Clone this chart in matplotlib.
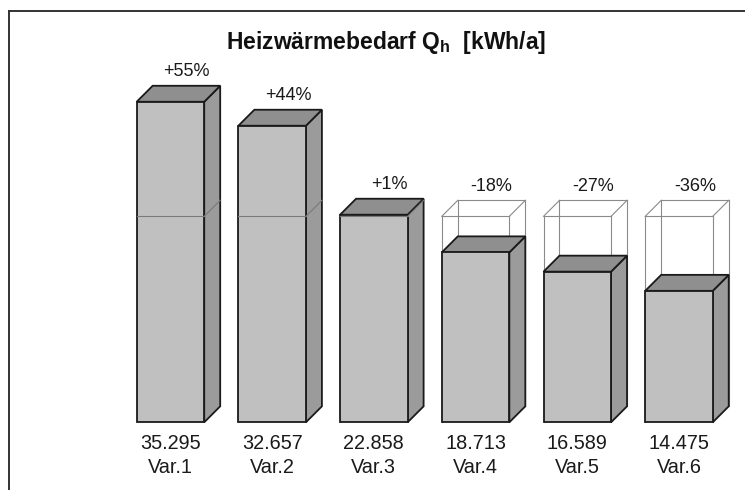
import matplotlib
matplotlib.use("Agg")
import matplotlib.pyplot as plt
from matplotlib.patches import Polygon, Rectangle
from matplotlib.lines import Line2D

plt.rcParams['font.family'] = ['Liberation Sans', 'DejaVu Sans']
plt.rcParams['mathtext.fontset'] = 'custom'
plt.rcParams['mathtext.bf'] = 'Liberation Sans:bold'
plt.rcParams['mathtext.rm'] = 'Liberation Sans'

# ---- data ----
categories = ["Var.1", "Var.2", "Var.3", "Var.4", "Var.5", "Var.6"]
values = [35.295, 32.657, 22.858, 18.713, 16.589, 14.475]
value_labels = ["35.295", "32.657", "22.858", "18.713", "16.589", "14.475"]
pct_labels = ["+55%", "+44%", "+1%", "-18%", "-27%", "-36%"]
reference = 22.68

# ---- style / geometry ----
W = 0.664       # front face width (category units)
DX = 0.157      # depth offset in x (category units)
DY = 1.76       # depth offset in y (value units)
FRONT = "#c0c0c0"
TOP = "#8f8f8f"
SIDE = "#9b9b9b"
EDGE = "#1a1a1a"
WIRE = "#8a8a8a"

fig = plt.figure(figsize=(7.45, 4.90), dpi=100)
ax = fig.add_axes([0, 0, 1, 1])
ax.set_xlim(-1.676, 5.649)
ax.set_ylim(-7.454, 46.50)
ax.axis("off")

for i, v in enumerate(values):
    x0, x1 = i - W / 2, i + W / 2
    # wireframe reference box behind lower bars
    if v < reference:
        r = reference
        segs = [
            [(x0, 0), (x0, r)], [(x1, 0), (x1, r)], [(x0, r), (x1, r)],
            [(x0 + DX, DY), (x0 + DX, r + DY)], [(x1 + DX, DY), (x1 + DX, r + DY)],
            [(x0 + DX, r + DY), (x1 + DX, r + DY)],
            [(x0, r), (x0 + DX, r + DY)], [(x1, r), (x1 + DX, r + DY)],
        ]
        for s in segs:
            ax.add_line(Line2D([s[0][0], s[1][0]], [s[0][1], s[1][1]],
                               color=WIRE, lw=0.8, zorder=1))
    # bar faces
    ax.add_patch(Polygon([(x1, 0), (x1 + DX, DY), (x1 + DX, v + DY), (x1, v)],
                         closed=True, facecolor=SIDE, edgecolor=EDGE, lw=1.3, zorder=2))
    ax.add_patch(Polygon([(x0, v), (x1, v), (x1 + DX, v + DY), (x0 + DX, v + DY)],
                         closed=True, facecolor=TOP, edgecolor=EDGE, lw=1.3, zorder=2,
                         joinstyle="miter"))
    ax.add_patch(Rectangle((x0, 0), W, v, facecolor=FRONT, edgecolor=EDGE, lw=1.3, zorder=3))
    # reference cut line on taller bars
    if v > reference:
        ax.add_line(Line2D([x0, x1], [reference, reference], color="#7a7a7a", lw=0.8, zorder=4))
        ax.add_line(Line2D([x1, x1 + DX], [reference, reference + DY], color="#7a7a7a",
                           lw=0.8, zorder=4))
    top = max(v, reference)
    ax.text(i + DX, top + DY + 1.55, pct_labels[i], ha="center", va="center",
            fontsize=13, color="#1a1a1a")
    ax.text(i, -2.3, value_labels[i], ha="center", va="center", fontsize=14.3, color="#1a1a1a")
    ax.text(i, -5.0, categories[i], ha="center", va="center", fontsize=14.3, color="#1a1a1a")

# title
fig.text(386 / 745, 1 - 42 / 490, "Heizwärmebedarf Q$_\\mathbf{h}$  [kWh/a]",
         ha="center", va="center", fontsize=16.5, fontweight="bold", color="#111111")

# frame lines (top and left)
fig.add_artist(Line2D([9 / 745, 1], [1 - 11 / 490, 1 - 11 / 490], transform=fig.transFigure,
                      color="#333333", lw=1.4))
fig.add_artist(Line2D([9 / 745, 9 / 745], [1 - 11 / 490, 0], transform=fig.transFigure,
                      color="#333333", lw=1.4))

fig.savefig("out.png", dpi=100)
